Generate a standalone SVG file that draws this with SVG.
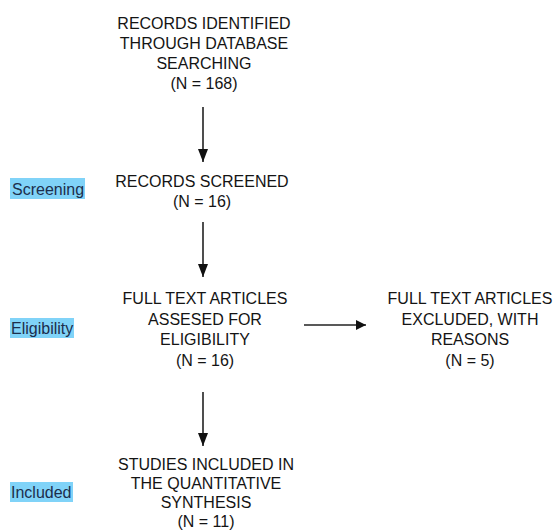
<svg xmlns="http://www.w3.org/2000/svg" width="557" height="531" viewBox="0 0 557 531">
<defs>
<style>
.t{font-family:"Liberation Sans",Arial,Helvetica,sans-serif;font-size:16px;fill:#141414;text-anchor:middle}
.lbl{font-family:"Liberation Sans",Arial,Helvetica,sans-serif;font-size:16px;fill:#1c2e4c}
.hl{fill:#80d3f8}
.ln{stroke:#222;stroke-width:1.6;fill:none}
</style>
<marker id="ah" viewBox="0 0 10 10" refX="10" refY="5" markerWidth="10" markerHeight="10" markerUnits="userSpaceOnUse" orient="auto">
<path d="M0,0 L10,5 L0,10 Z" fill="#111"/>
</marker>
<marker id="av" viewBox="0 0 13 10" refX="13" refY="5" markerWidth="13" markerHeight="10" markerUnits="userSpaceOnUse" orient="auto">
<path d="M0,0 L13,5 L0,10 Z" fill="#111"/>
</marker>
</defs>
<rect width="557" height="531" fill="#fff"/>
<g id="stage-screening">
<rect class="hl" x="10" y="178" width="75" height="21"/>
<text class="lbl" x="12" y="195">Screening</text>
</g>
<g id="stage-eligibility">
<rect class="hl" x="10" y="318" width="64" height="20"/>
<text class="lbl" x="11" y="334">Eligibility</text>
</g>
<g id="stage-included">
<rect class="hl" x="10" y="482" width="63" height="20"/>
<text class="lbl" x="11" y="498">Included</text>
</g>
<g id="identified">
<text class="t" x="204" y="29">RECORDS IDENTIFIED</text>
<text class="t" x="204" y="49">THROUGH DATABASE</text>
<text class="t" x="204" y="69">SEARCHING</text>
<text class="t" x="204" y="89">(N = 168)</text>
</g>
<g id="screened">
<text class="t" x="202" y="187">RECORDS SCREENED</text>
<text class="t" x="202" y="207">(N = 16)</text>
</g>
<g id="assessed">
<text class="t" x="205" y="304">FULL TEXT ARTICLES</text>
<text class="t" x="205" y="324.5">ASSESED FOR</text>
<text class="t" x="205" y="345">ELIGIBILITY</text>
<text class="t" x="205" y="365.5">(N = 16)</text>
</g>
<g id="excluded">
<text class="t" x="470" y="304">FULL TEXT ARTICLES</text>
<text class="t" x="470" y="324.5">EXCLUDED, WITH</text>
<text class="t" x="470" y="345">REASONS</text>
<text class="t" x="470" y="365.5">(N = 5)</text>
</g>
<g id="included">
<text class="t" x="206" y="470">STUDIES INCLUDED IN</text>
<text class="t" x="206" y="489">THE QUANTITATIVE</text>
<text class="t" x="206" y="508">SYNTHESIS</text>
<text class="t" x="206" y="527">(N = 11)</text>
</g>
<g id="connectors">
<line class="ln" x1="203" y1="107" x2="203" y2="162" marker-end="url(#av)"/>
<line class="ln" x1="203" y1="222" x2="203" y2="277" marker-end="url(#av)"/>
<line class="ln" x1="304" y1="325" x2="366" y2="325" marker-end="url(#ah)"/>
<line class="ln" x1="203" y1="392" x2="203" y2="446" marker-end="url(#av)"/>
</g>
</svg>
